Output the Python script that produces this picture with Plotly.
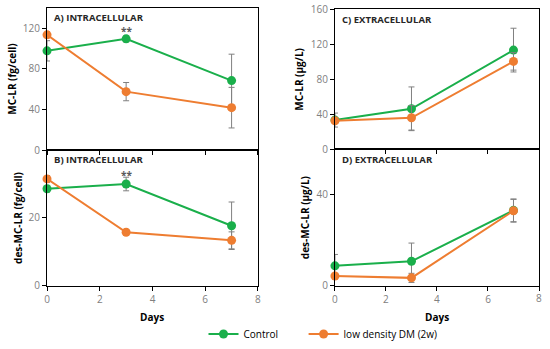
import plotly.graph_objects as go

days = [0, 3, 7]

# A) intracellular MC-LR (fg/cell)
a_ctrl = [97.8, 109.6, 68.5]
a_ctrl_err = [10, 3, 26]
a_dm = [113.6, 57.6, 41.8]
a_dm_err = [3, 9, 20]

# B) intracellular des-MC-LR (fg/cell)
b_ctrl = [28.6, 30.0, 17.7]
b_ctrl_err = [1, 2, 7]
b_dm = [31.5, 15.8, 13.4]
b_dm_err = [1, 0.8, 2.5]

# C) extracellular MC-LR (µg/L)
c_ctrl = [33.5, 46.4, 113.5]
c_ctrl_err = [8, 25, 25]
c_dm = [32.7, 36.1, 100.6]
c_dm_err = [3, 14, 10]

# D) extracellular des-MC-LR (µg/L)
d_ctrl = [8.8, 10.8, 33.2]
d_ctrl_err = [5, 8, 5]
d_dm = [4.3, 3.5, 33.0]
d_dm_err = [1, 2, 5]

x_ticks = [0, 2, 4, 6, 8]

GREEN = "#1aaf4b"
ORANGE = "#ee7d31"
ERR = "#808080"

fig = go.Figure()

panels = [
    ("x", "y", a_ctrl, a_ctrl_err, a_dm, a_dm_err),
    ("x2", "y2", b_ctrl, b_ctrl_err, b_dm, b_dm_err),
    ("x3", "y3", c_ctrl, c_ctrl_err, c_dm, c_dm_err),
    ("x4", "y4", d_ctrl, d_ctrl_err, d_dm, d_dm_err),
]

for i, (xa, ya, ctrl, ctrl_e, dm, dm_e) in enumerate(panels):
    for vals, errs, col, name, lg in [(ctrl, ctrl_e, GREEN, "Control", "legend"),
                                      (dm, dm_e, ORANGE, "low density DM (2w)", "legend2")]:
        fig.add_trace(go.Scatter(
            x=days, y=vals, xaxis=xa, yaxis=ya, mode="lines+markers",
            name=name, showlegend=(i == 0), legend=lg, cliponaxis=False,
            line=dict(color=col, width=2),
            marker=dict(color=col, size=9, symbol="circle"),
            error_y=dict(type="data", array=errs, color=ERR, thickness=1, width=3),
        ))

FONT = "Open Sans, Liberation Sans, sans-serif"
tickfont = dict(family=FONT, size=10, color="#808080")
titlefont = dict(family=FONT, size=10, color="#000000")

def xaxis(domain, anchor, show_labels, ticktext):
    return dict(domain=domain, anchor=anchor, range=[0, 8], tickvals=x_ticks,
                ticktext=ticktext,
                showgrid=False, zeroline=False, showline=True, linecolor="black", linewidth=1,
                mirror=True, ticks="outside", ticklen=4, tickcolor="black",
                showticklabels=show_labels, tickfont=tickfont, automargin=False,
                ticklabeloverflow="allow")

def yaxis(domain, anchor, rng, dtick, title, standoff):
    return dict(domain=domain, anchor=anchor, range=rng, dtick=dtick, tick0=0,
                showgrid=False, zeroline=False, showline=True, linecolor="black", linewidth=1,
                mirror=True, ticks="outside", ticklen=4, tickcolor="black", tickfont=tickfont,
                automargin=False, ticklabeloverflow="allow",
                title=dict(text="<b>" + title + "</b>", font=titlefont, standoff=standoff))

L = [0.0855, 0.469]
R = [0.609, 0.980]
TOP = [0.570, 0.977]
BOT = [0.181, 0.570]
TOPR = [0.572, 0.973]
BOTR = [0.181, 0.572]

full_text = [str(v) for v in x_ticks]
right_text = [str(v) for v in x_ticks[:-1]] + [""]

legfont = dict(family=FONT, size=10, color="black")
fig.update_layout(
    width=550, height=349,
    margin=dict(l=0, r=0, t=0, b=0, autoexpand=False),
    paper_bgcolor="white", plot_bgcolor="white",
    xaxis=xaxis(L, "y", False, full_text),
    yaxis=yaxis(TOP, "x", [0, 140], 40, "MC-LR (fg/cell)", 4),
    xaxis2=xaxis(L, "y2", True, full_text),
    yaxis2=yaxis(BOT, "x2", [0, 40], 20, "des-MC-LR (fg/cell)", 4),
    xaxis3=xaxis(R, "y3", False, full_text),
    yaxis3=yaxis(TOPR, "x3", [0, 160], 40, "MC-LR (µg/L)", 5),
    xaxis4=xaxis(R, "y4", True, right_text),
    yaxis4=yaxis(BOTR, "x4", [0, 60], 40, "des-MC-LR (µg/L)", 5),
    legend=dict(orientation="h", x=0.370, xanchor="left", y=0.043, yanchor="middle",
                font=legfont, itemwidth=30, bgcolor="rgba(0,0,0,0)"),
    legend2=dict(orientation="h", x=0.552, xanchor="left", y=0.043, yanchor="middle",
                 font=legfont, itemwidth=30, bgcolor="rgba(0,0,0,0)"),
    showlegend=True,
)

# hide the top tick label on B (40) which would collide with A's 0
fig.update_layout(yaxis2=dict(tickvals=[0, 20], ticktext=["0", "20"]))

# last tick label of the right x-axis, at the axis end (value 8)
fig.add_annotation(x=1.0, y=0.1447, xref="x4 domain", yref="paper", text=str(x_ticks[-1]),
                   showarrow=False, xanchor="center", yanchor="middle", font=tickfont)

ann_font = dict(family=FONT, size=9.5, color="#262626")
labels = [("x", "y", "A) INTRACELLULAR"), ("x2", "y2", "B) INTRACELLULAR"),
          ("x3", "y3", "C) EXTRACELLULAR"), ("x4", "y4", "D) EXTRACELLULAR")]
for xa, ya, t in labels:
    fig.add_annotation(x=0.025, y=0.99, xref=xa + " domain", yref=ya + " domain",
                       text="<b>" + t + "</b>", showarrow=False, xanchor="left", yanchor="top",
                       font=ann_font)

# x-axis titles
for xa in ["x2", "x4"]:
    fig.add_annotation(x=0.5, y=0.092, xref=xa + " domain", yref="paper", text="<b>Days</b>",
                       showarrow=False, xanchor="center", yanchor="middle", font=titlefont)

fig.add_annotation(x=3, y=117.5, xref="x", yref="y", text="<b>**</b>", showarrow=False,
                   yanchor="middle", font=dict(size=10, color="#595959"))
fig.add_annotation(x=3, y=32.8, xref="x2", yref="y2", text="<b>**</b>", showarrow=False,
                   yanchor="middle", font=dict(size=10, color="#595959"))

fig.write_html("out.html", default_width="550px", default_height="349px",
               config={"displayModeBar": False},
               post_script=("document.body.style.margin='0';"
                            "document.body.style.overflow='hidden';"
                            "var gd=document.getElementById('{plot_id}');"
                            "Plotly.relayout(gd, {});"))
